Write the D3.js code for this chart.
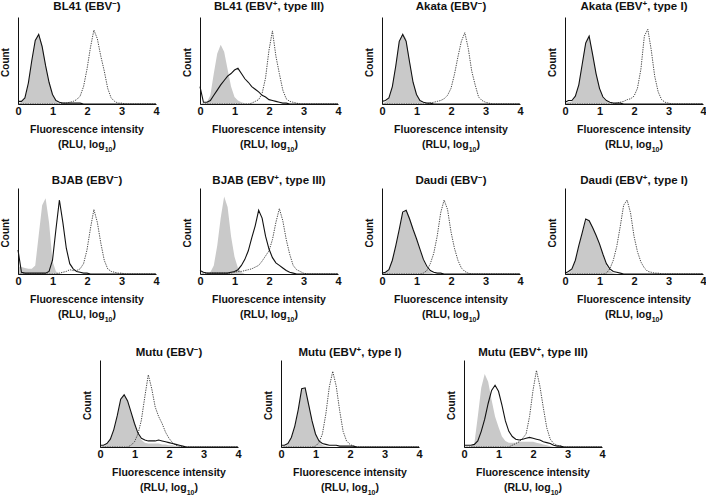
<!DOCTYPE html>
<html><head><meta charset="utf-8">
<script src="https://cdn.jsdelivr.net/npm/d3@7"></script>
<style>
body{margin:0;background:#fff;}
svg{display:block;}
text{font-family:"Liberation Sans",Arial,Helvetica,sans-serif;font-weight:bold;fill:#111;}
</style></head>
<body>
<svg id="chart" width="706" height="495"></svg>
<script>
// ---- DATA ----
const binCenters = [0,0.1,0.2,0.3,0.4,0.5,0.6,0.7,0.8,0.9,1,1.1,1.2,1.3,1.4,1.5,1.6,1.7,1.8,1.9,2,2.1,2.2,2.3,2.4,2.5,2.6,2.7,2.8,2.9,3,3.1,3.2,3.3,3.4,3.5,3.6,3.7,3.8,3.9,4];
const cellLines = ["BL41","BL41","Akata","Akata","BJAB","BJAB","Daudi","Daudi","Mutu","Mutu","Mutu"];
const ebvSign   = ["−","+","−","+","−","+","−","+","−","+","+"];
const latency   = ["","type III","","type I","","type III","","type I","","type I","type III"];
const xTickValues = [0,1,2,3,4];
const xLabel = "Fluorescence intensity";
const yLabel = "Count";

// gray filled histogram (control)
const grayControl = [
 [1,2,6,22,50,72,81,68,45,25, 10,3,1,0,0,0,0,0,0,0, 0,0,0,0,0,0,0,0,0,0, 0,0,0,0,0,0,0,0,0,0,0],
 [0,0,2,10,35,58,68,60,40,20, 8,4,2,1,1,1,1,1,1,1, 1,0,0,0,0,0,0,0,0,0, 0,0,0,0,0,0,0,0,0,0,0],
 [1,2,6,20,45,72,82,75,50,26, 11,3,1,0,0,0,0,0,0,0, 0,0,0,0,0,0,0,0,0,0, 0,0,0,0,0,0,0,0,0,0,0],
 [1,2,3,8,22,46,72,80,58,36, 18,7,3,1,0,0,0,0,0,0, 0,0,0,0,0,0,0,0,0,0, 0,0,0,0,0,0,0,0,0,0,0],
 [9,8,7,6,6,10,45,80,88,60, 15,3,1,0,0,0,0,0,0,0, 0,0,0,0,0,0,0,0,0,0, 0,0,0,0,0,0,0,0,0,0,0],
 [0,0,0,2,10,33,65,90,78,44, 20,7,2,0,0,0,0,0,0,0, 0,0,0,0,0,0,0,0,0,0, 0,0,0,0,0,0,0,0,0,0,0],
 [0,1,5,16,32,50,70,75,66,53, 40,28,16,7,2,0,0,0,0,0, 0,0,0,0,0,0,0,0,0,0, 0,0,0,0,0,0,0,0,0,0,0],
 [0,1,5,15,32,47,62,63,55,45, 36,22,10,4,1,0,0,0,0,0, 0,0,0,0,0,0,0,0,0,0, 0,0,0,0,0,0,0,0,0,0,0],
 [0,1,3,8,19,35,54,60,54,40, 27,15,8,5,4,4,4,4,3,3, 2,2,1,1,0,0,0,0,0,0, 0,0,0,0,0,0,0,0,0,0,0],
 [0,1,3,10,23,42,66,68,50,31, 15,6,2,1,0,0,0,0,0,0, 0,0,0,0,0,0,0,0,0,0, 0,0,0,0,0,0,0,0,0,0,0],
 [0,0,1,4,35,68,84,75,54,35, 23,12,7,5,5,5,6,6,6,6, 6,5,4,3,2,1,0,0,0,0, 0,0,0,0,0,0,0,0,0,0,0]
];
// solid line histogram
const solidSample = [
 [3,3,7,24,50,73,80,66,44,25, 11,4,2,1,1,1,1,1,1,0, 0,0,0,0,0,0,0,0,0,0, 0,0,0,0,0,0,0,0,0,0,0],
 [20,2,2,4,10,16,22,27,32,35, 39,41,35,29,25,20,17,14,10,8, 5,4,3,2,1,1,0,0,0,0, 0,0,0,0,0,0,0,0,0,0,0],
 [3,4,7,20,44,72,80,72,48,25, 11,4,2,1,1,0,0,0,0,0, 0,0,0,0,0,0,0,0,0,0, 0,0,0,0,0,0,0,0,0,0,0],
 [2,4,4,9,22,46,70,78,57,35, 18,8,4,2,1,1,1,0,0,0, 0,0,0,0,0,0,0,0,0,0, 0,0,0,0,0,0,0,0,0,0,0],
 [28,2,1,1,1,1,1,1,1,3, 16,52,86,60,30,12,6,3,2,1, 1,0,0,0,0,0,0,0,0,0, 0,0,0,0,0,0,0,0,0,0,0],
 [4,2,1,1,1,1,1,1,1,2, 3,5,10,17,27,42,56,74,65,44, 29,19,13,10,7,4,2,1,0,0, 0,0,0,0,0,0,0,0,0,0,0],
 [1,2,5,16,33,52,72,74,64,52, 41,29,17,9,4,2,1,1,0,0, 0,0,0,0,0,0,0,0,0,0, 0,0,0,0,0,0,0,0,0,0,0],
 [1,3,6,16,33,48,64,62,54,45, 35,23,12,6,3,2,1,0,0,0, 0,0,0,0,0,0,0,0,0,0, 0,0,0,0,0,0,0,0,0,0,0],
 [2,2,4,9,20,36,55,60,53,40, 27,16,10,8,7,7,7,8,7,6, 5,4,3,2,1,0,0,0,0,0, 0,0,0,0,0,0,0,0,0,0,0],
 [2,2,4,11,24,43,67,68,49,30, 15,7,4,3,2,2,2,1,1,1, 1,1,0,0,0,0,0,0,0,0, 0,0,0,0,0,0,0,0,0,0,0],
 [2,2,2,3,7,18,32,50,65,71, 64,48,30,18,12,9,8,9,10,11, 10,9,8,6,5,4,2,1,1,0, 0,0,0,0,0,0,0,0,0,0,0]
];
// dotted line histogram
const dottedSample = [
 [0,0,0,0,0,0,0,0,0,0, 0,0,0,1,1,2,3,5,9,20, 40,65,85,75,55,38,18,7,3,1, 1,0,0,0,0,0,0,0,0,0,0],
 [0,0,0,0,0,0,0,0,0,0, 0,0,0,0,0,1,3,5,12,30, 62,84,55,35,16,6,3,2,1,0, 0,0,0,0,0,0,0,0,0,0,0],
 [0,0,0,0,0,0,0,0,0,0, 0,0,0,0,1,2,3,4,6,10, 18,34,54,72,82,64,38,22,8,4, 2,1,0,0,0,0,0,0,0,0,0],
 [0,0,0,0,0,0,0,0,0,0, 0,0,0,0,0,1,2,3,5,6, 9,18,40,78,86,62,32,14,5,2, 1,0,0,0,0,0,0,0,0,0,0],
 [0,0,0,0,0,0,0,0,0,0, 0,0,1,2,3,5,4,4,6,12, 28,53,75,60,36,16,6,3,2,1, 1,0,0,0,0,0,0,0,0,0,0],
 [1,1,1,1,1,1,1,1,1,1, 2,3,3,4,5,6,8,10,15,21, 27,40,60,76,62,40,23,10,5,3, 1,0,0,0,0,0,0,0,0,0,0],
 [0,0,0,0,0,0,0,0,0,0, 0,0,1,4,12,24,44,71,86,75, 49,30,16,7,3,1,0,0,0,0, 0,0,0,0,0,0,0,0,0,0,0],
 [0,0,0,0,0,0,0,0,0,0, 0,0,1,6,16,32,55,80,86,71, 44,26,14,7,3,2,1,1,0,0, 0,0,0,0,0,0,0,0,0,0,0],
 [0,0,0,0,0,0,0,0,0,2, 6,15,31,58,83,67,46,35,27,17, 10,5,2,1,0,0,0,0,0,0, 0,0,0,0,0,0,0,0,0,0,0],
 [0,0,0,0,0,0,0,0,0,0, 1,5,15,38,69,87,70,42,18,7, 3,1,0,0,0,0,0,0,0,0, 0,0,0,0,0,0,0,0,0,0,0],
 [0,0,0,0,0,0,0,0,0,0, 0,0,0,0,2,4,6,10,15,35, 65,88,70,45,22,9,4,2,1,0, 0,0,0,0,0,0,0,0,0,0,0]
];

// ---- LAYOUT ----
const panelLeft = [18,200,382,565, 18,200,382,565, 100,281,464];
const panelRow  = [0,0,0,0, 1,1,1,1, 2,2,2];
const rowTop  = [17,188,360];
const rowBase = [104,274,447];
const titleY  = [10,184,356];
const plotW = 138;

const svg = d3.select("#chart");

cellLines.forEach((name, i) => {
  const r = panelRow[i];
  const h = rowBase[r] - rowTop[r];
  const g = svg.append("g").attr("transform", `translate(${panelLeft[i]},${rowTop[r]})`);
  const x = d3.scaleLinear().domain([0,4]).range([0,plotW]);
  const y = d3.scaleLinear().domain([0,100]).range([h,0]);

  const pts = arr => arr.map((v,k)=>[binCenters[k], v]);

  g.append("path").datum(pts(grayControl[i]))
    .attr("d", d3.area().x(d=>x(d[0])).y0(y(0)).y1(d=>y(d[1])))
    .attr("fill", "#c9c9c9");
  g.append("path").datum(pts(dottedSample[i]))
    .attr("d", d3.line().x(d=>x(d[0])).y(d=>y(d[1])))
    .attr("fill","none").attr("stroke","#333").attr("stroke-width",0.9)
    .attr("stroke-dasharray","1.3,1.1");
  g.append("path").datum(pts(solidSample[i]))
    .attr("d", d3.line().x(d=>x(d[0])).y(d=>y(d[1])))
    .attr("fill","none").attr("stroke","#111").attr("stroke-width",1.1);

  // axes
  const xa = g.append("g").attr("transform",`translate(0,${h})`)
    .call(d3.axisBottom(x).tickValues(xTickValues).tickSize(0).tickSizeOuter(0).tickPadding(3).tickFormat(d3.format("d")));
  xa.select(".domain").attr("stroke","#111").attr("stroke-width",1);
  xa.selectAll("text").attr("font-size","11px").attr("font-family",null).attr("fill","#111");
  const ya = g.append("g").call(d3.axisLeft(y).tickValues([]).tickSizeOuter(0));
  ya.select(".domain").attr("stroke","#111").attr("stroke-width",1);

  // title
  const t = svg.append("text").attr("x", panelLeft[i] + plotW/2).attr("y", titleY[r])
    .attr("text-anchor","middle").attr("font-size","11.5px");
  t.append("tspan").text(name + " (EBV");
  t.append("tspan").attr("baseline-shift","super").attr("font-size","8px").text(ebvSign[i]);
  t.append("tspan").text(latency[i] ? ", " + latency[i] + ")" : ")");

  // x labels
  svg.append("text").attr("x", panelLeft[i] + plotW/2).attr("y", rowBase[r] + 29)
    .attr("text-anchor","middle").attr("font-size","10.5px").text(xLabel);
  const u = svg.append("text").attr("x", panelLeft[i] + plotW/2).attr("y", rowBase[r] + 44)
    .attr("text-anchor","middle").attr("font-size","10.5px");
  u.append("tspan").text("(RLU, log");
  u.append("tspan").attr("baseline-shift","sub").attr("font-size","7px").text("10");
  u.append("tspan").text(")");

  // y label
  svg.append("text")
    .attr("transform", `translate(${panelLeft[i]-9.5},${(rowTop[r]+rowBase[r])/2+2}) rotate(-90)`)
    .attr("text-anchor","middle").attr("font-size","10px").text(yLabel);
});
</script>
</body></html>
